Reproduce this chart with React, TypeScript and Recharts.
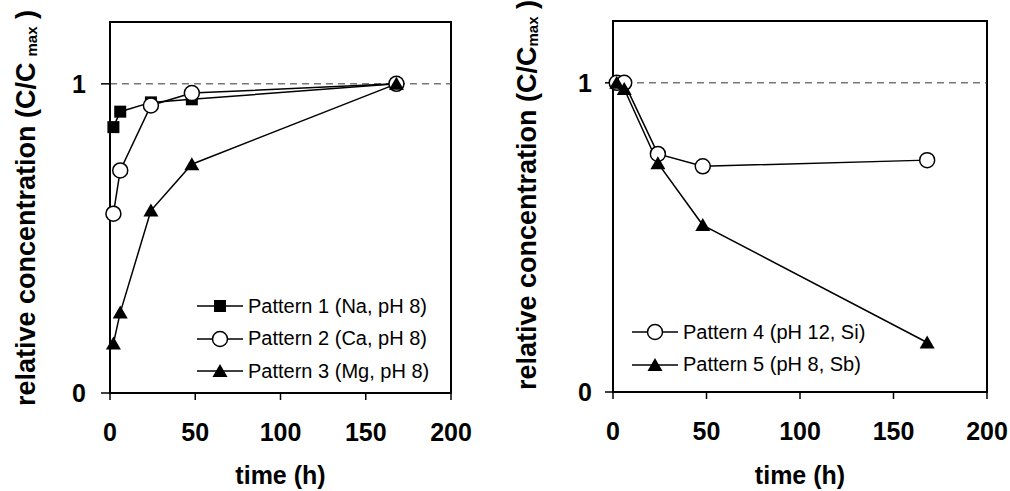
import { LineChart, Line, XAxis, YAxis, ReferenceLine, ReferenceArea, Legend } from 'recharts';

// sampling times (h)
const hours = [2, 6, 24, 48, 168];

// relative concentration C/Cmax, left panel
const pattern1 = [0.86, 0.91, 0.94, 0.95, 1.0];
const pattern2 = [0.58, 0.72, 0.93, 0.97, 1.0];
const pattern3 = [0.16, 0.26, 0.59, 0.74, 1.0];

// right panel
const pattern4 = [1.0, 1.0, 0.77, 0.73, 0.75];
const pattern5 = [1.0, 0.98, 0.74, 0.54, 0.16];

const xTicks = [0, 50, 100, 150, 200];
const yTicks = [0, 1];

const FONT = '"Liberation Sans", Arial, sans-serif';

type Marker = 'square' | 'circle' | 'triangle';

const toPoints = (vals: number[]) => hours.map((t, i) => ({ t, c: vals[i] }));

function drawMarker(kind: Marker, cx: number, cy: number, key?: string) {
  if (kind === 'square') {
    return <rect key={key} x={cx - 6} y={cy - 6} width={12} height={12} fill="#000" />;
  }
  if (kind === 'circle') {
    return <circle key={key} cx={cx} cy={cy} r={7.5} fill="#fff" stroke="#000" strokeWidth={1.5} />;
  }
  return (
    <polygon
      key={key}
      points={`${cx},${cy - 7} ${cx + 7.5},${cy + 6} ${cx - 7.5},${cy + 6}`}
      fill="#000"
    />
  );
}

const dotFor = (kind: Marker) => (props: any) =>
  drawMarker(kind, props.cx, props.cy, `${kind}-${props.index}`);

interface SeriesDef {
  name: string;
  values: number[];
  marker: Marker;
}

const leftSeries: SeriesDef[] = [
  { name: 'Pattern 1 (Na, pH 8)', values: pattern1, marker: 'square' },
  { name: 'Pattern 2 (Ca, pH 8)', values: pattern2, marker: 'circle' },
  { name: 'Pattern 3 (Mg, pH 8)', values: pattern3, marker: 'triangle' },
];

const rightSeries: SeriesDef[] = [
  { name: 'Pattern 4 (pH 12, Si)', values: pattern4, marker: 'circle' },
  { name: 'Pattern 5 (pH 8, Sb)', values: pattern5, marker: 'triangle' },
];

const legendBox = (series: SeriesDef[]) => () => (
  <div style={{ fontFamily: FONT, fontSize: 20, color: '#000' }}>
    {series.map((s) => (
      <div key={s.name} style={{ display: 'flex', alignItems: 'center', height: 32.5 }}>
        <svg width={46} height={20} style={{ display: 'block' }}>
          <line x1={0} x2={46} y1={10} y2={10} stroke="#000" strokeWidth={1.5} />
          {drawMarker(s.marker, 23, 10)}
        </svg>
        <span style={{ marginLeft: 5, whiteSpace: 'nowrap' }}>{s.name}</span>
      </div>
    ))}
  </div>
);

// rotated axis title with a subscript "max"
const yLabel = (gap: number, baselineX: number, centerY: number) => (props: any) => {
  const vb = props.viewBox || { x: 0 };
  const x = vb.x + baselineX;
  const y = centerY;
  return (
    <text
      transform={`rotate(-90 ${x} ${y})`}
      x={x}
      y={y}
      textAnchor="middle"
      fontFamily={FONT}
      fontWeight="bold"
      fontSize={27}
      fill="#000"
    >
      relative concentration (C/C
      <tspan fontSize={15} dx={gap} dy={2}>
        max
      </tspan>
      <tspan dy={-2}> )</tspan>
    </text>
  );
};

const xLabel = (props: any) => {
  const vb = props.viewBox || { x: 0, width: 0 };
  return (
    <text
      x={vb.x + vb.width / 2}
      y={484}
      textAnchor="middle"
      fontFamily={FONT}
      fontWeight="bold"
      fontSize={25}
      fill="#000"
    >
      time (h)
    </text>
  );
};

interface PanelProps {
  series: SeriesDef[];
  width: number;
  margin: { top: number; right: number; left: number; bottom: number };
  yAxisWidth: number;
  tickSize: number;
  tickMargin: number;
  legendLeft: number;
  legendTop: number;
  labelGap: number;
  labelX: number;
  labelY: number;
}

function Panel(p: PanelProps) {
  return (
    <LineChart width={p.width} height={491} margin={p.margin}>
      <ReferenceArea x1={0} x2={200} y1={0} y2={1.2} fill="none" stroke="#000" strokeWidth={2} />
      <ReferenceLine y={1} stroke="#333" strokeWidth={1} strokeDasharray="7 5" />
      <XAxis
        type="number"
        dataKey="t"
        domain={[0, 200]}
        ticks={xTicks}
        interval={0}
        height={491 - p.margin.top - 371}
        tickSize={7}
        tickMargin={23}
        axisLine={{ stroke: '#000', strokeWidth: 2 }}
        tickLine={{ stroke: '#000', strokeWidth: 1.5 }}
        tick={{ fill: '#000', fontSize: 25, fontWeight: 'bold', fontFamily: FONT }}
        label={{ content: xLabel }}
      />
      <YAxis
        type="number"
        domain={[0, 1.2]}
        ticks={yTicks}
        interval={0}
        width={p.yAxisWidth}
        tickSize={p.tickSize}
        tickMargin={p.tickMargin}
        axisLine={{ stroke: '#000', strokeWidth: 2 }}
        tickLine={{ stroke: '#000', strokeWidth: 1.5 }}
        tick={{ fill: '#000', fontSize: 25, fontWeight: 'bold', fontFamily: FONT }}
        label={{ content: yLabel(p.labelGap, p.labelX, p.labelY) }}
      />
      {p.series.map((s) => (
        <Line
          key={s.name}
          name={s.name}
          data={toPoints(s.values)}
          dataKey="c"
          type="linear"
          stroke="#000"
          strokeWidth={1.5}
          dot={dotFor(s.marker)}
          activeDot={false}
          isAnimationActive={false}
        />
      ))}
      <Legend
        layout="vertical"
        align="center"
        verticalAlign="middle"
        content={legendBox(p.series)}
        wrapperStyle={{ left: p.legendLeft, top: p.legendTop, width: 'auto' }}
      />
    </LineChart>
  );
}

export default function App() {
  return (
    <div
      style={{
        position: 'absolute',
        left: 0,
        top: 0,
        width: 1010,
        height: 491,
        background: '#fff',
        overflow: 'hidden',
      }}
    >
      <div style={{ position: 'absolute', left: 0, top: 0 }}>
        <Panel
          series={leftSeries}
          width={495}
          margin={{ top: 22, right: 44, left: 0, bottom: 0 }}
          yAxisWidth={110}
          tickSize={9}
          tickMargin={15}
          legendLeft={197}
          legendTop={290}
          labelGap={6}
          labelX={35}
          labelY={208}
        />
      </div>
      <div style={{ position: 'absolute', left: 500, top: 0 }}>
        <Panel
          series={rightSeries}
          width={510}
          margin={{ top: 21, right: 23, left: 0, bottom: 0 }}
          yAxisWidth={113}
          tickSize={8}
          tickMargin={13}
          legendLeft={132}
          legendTop={316}
          labelGap={0}
          labelX={36}
          labelY={195}
        />
      </div>
    </div>
  );
}
